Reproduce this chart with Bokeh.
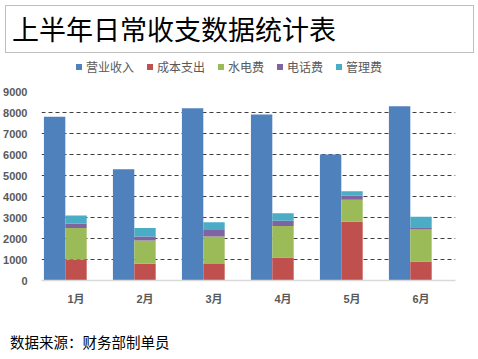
from bokeh.plotting import figure
from bokeh.layouts import column
from bokeh.models import (FactorRange, Range1d, Div, SingleIntervalTicker,
                          ColumnDataSource)
from bokeh.transform import dodge
from bokeh.embed import file_html
from bokeh.resources import INLINE

months = ["1月", "2月", "3月", "4月", "5月", "6月"]
revenue = [7800, 5300, 8200, 7900, 6000, 8300]
cost = [1000, 800, 780, 1100, 2800, 900]
utilities = [1500, 1100, 1320, 1500, 1050, 1530]
phone = [200, 200, 300, 250, 200, 110]
mgmt = [400, 400, 370, 350, 200, 500]
series_names = ["营业收入", "成本支出", "水电费", "电话费", "管理费"]
colors = ["#4F81BD", "#C0504D", "#9BBB59", "#8064A2", "#4BACC6"]
title_text = "上半年日常收支数据统计表"
footer_text = "数据来源：财务部制单员"

source = ColumnDataSource(dict(months=months, revenue=revenue, cost=cost,
                               utilities=utilities, phone=phone, mgmt=mgmt))

num_font = "'Liberation Sans', 'Noto Sans CJK SC'"
cjk_css = "'Noto Sans CJK SC', sans-serif"

W = 470
p = figure(width=W, height=224, x_range=FactorRange(*months),
           y_range=Range1d(0, 9000), output_backend="svg", title=None,
           toolbar_location=None, min_border_left=36, min_border_right=15,
           min_border_top=8, min_border_bottom=24)
p.outline_line_color = None
p.background_fill_color = "white"
p.border_fill_color = "white"

bw = 0.31
r_rev = p.vbar(x=dodge("months", -bw, range=p.x_range), top="revenue",
               width=bw, source=source, color=colors[0], line_color=None)
stack_rs = p.vbar_stack(["cost", "utilities", "phone", "mgmt"], x="months",
                        width=bw, source=source, color=colors[1:],
                        line_color=None)

# axes
p.yaxis.ticker = SingleIntervalTicker(interval=1000)
p.yaxis.axis_line_color = None
p.yaxis.major_tick_line_color = None
p.yaxis.minor_tick_line_color = None
p.yaxis.major_label_text_font = num_font
p.yaxis.major_label_text_font_style = "bold"
p.yaxis.major_label_text_font_size = "11px"
p.yaxis.major_label_text_color = "#595959"
p.yaxis.major_label_standoff = 8

p.xaxis.axis_line_color = "#d9d9d9"
p.xaxis.axis_line_width = 1.5
p.xaxis.major_tick_line_color = None
p.xaxis.minor_tick_line_color = None
p.xaxis.major_label_text_font = num_font
p.xaxis.major_label_text_font_style = "bold"
p.xaxis.major_label_text_font_size = "11px"
p.xaxis.major_label_text_color = "#595959"
p.xaxis.major_label_standoff = 6

p.xgrid.grid_line_color = None
p.ygrid.grid_line_color = "#404040"
p.ygrid.grid_line_dash = "4 3"
p.ygrid.grid_line_width = 1

# header: boxed title + legend
legend_html = "".join(
    "<span style=\"display:inline-flex;align-items:center;margin-right:13px\">"
    f"<span style=\"display:inline-block;width:6px;height:6px;background:{c};"
    "margin-right:4px\"></span>"
    f"<span>{name}</span></span>"
    for name, c in zip(series_names, colors))

header_div = Div(
    width=W, height=73,
    text=("<div style=\"box-sizing:border-box;width:469px;height:48px;"
          "border:1px solid #bfbfbf;"
          f"font-family:{cjk_css};font-size:27px;line-height:46px;"
          "padding-left:6px;color:#000;white-space:nowrap\">"
          + title_text + "</div>"
          "<div style=\"box-sizing:border-box;height:14px;margin-top:7px;"
          f"padding-left:71px;font-family:{cjk_css};font-size:12px;"
          "line-height:14px;color:#595959;white-space:nowrap;display:flex;"
          "align-items:center\">" + legend_html + "</div>"))

footer_div = Div(
    width=W, height=46,
    text=("<div style=\"box-sizing:border-box;padding:21px 0 0 5px;"
          f"font-family:{cjk_css};font-size:14.5px;line-height:18px;"
          "color:#000;white-space:nowrap\">" + footer_text + "</div>"))

layout = column(header_div, p, footer_div, spacing=0)

open("out.html", "w").write(file_html(layout, INLINE))
